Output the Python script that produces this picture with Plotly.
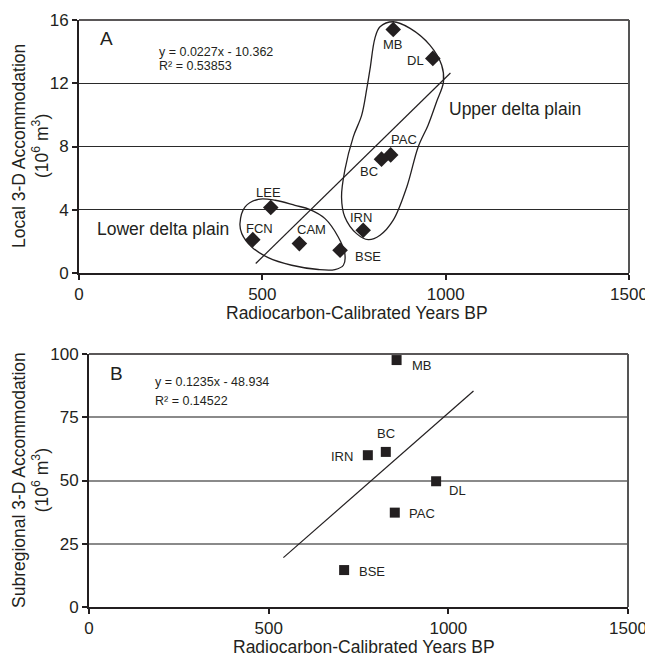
import plotly.graph_objects as go

# Panel A: local accommodation (diamonds)
sites_a = ["MB", "DL", "PAC", "BC", "IRN", "BSE", "LEE", "FCN", "CAM"]
years_a = [857, 965, 850, 825, 775, 712, 523, 474, 601]
accom_a = [15.4, 13.57, 7.47, 7.2, 2.7, 1.44, 4.14, 2.11, 1.86]

trend_a_x = [482, 1013]
trend_a_y = [0.6, 12.65]

# hand-drawn groupings
lower_loop_x = [439, 453, 489, 535, 589, 630, 671, 707, 725, 721, 698, 653, 580, 516, 471, 444, 439]
lower_loop_y = [3.13, 4.18, 4.66, 4.6, 4.28, 4.01, 3.44, 2.28, 1.23, 0.49, 0.22, 0.22, 0.49, 0.97, 1.65, 2.49, 3.13]
upper_loop_x = [857, 903, 957, 989, 994, 975, 952, 925, 894, 857, 821, 789, 757, 725, 716, 725, 748, 771, 785, 794, 807, 821, 857]
upper_loop_y = [15.89, 15.47, 14.41, 13.15, 12.09, 10.82, 9.35, 7.97, 5.44, 3.34, 2.39, 2.11, 2.49, 3.54, 4.81, 6.5, 8.61, 9.98, 11.67, 12.94, 14.84, 15.57, 15.89]

# Panel B: subregional accommodation (squares)
sites_b = ["MB", "BC", "IRN", "DL", "PAC", "BSE"]
years_b = [856, 826, 776, 966, 851, 710]
accom_b = [97.6, 61.3, 60.0, 49.7, 37.3, 14.6]

trend_b_x = [541, 1070]
trend_b_y = [19.5, 85.4]

x_ticks = [0, 500, 1000, 1500]
y_ticks_a = [0, 4, 8, 12, 16]
y_ticks_b = [0, 25, 50, 75, 100]

FONT = "Arial, Liberation Sans, sans-serif"
INK = "#231f20"
W, H = 645, 657

# label offsets (px) relative to each point
shift_a = [(0, -15), (-17, -2), (13, 15), (-13, -12), (-2, 13), (28, -6), (-2, 15), (7, 11), (12, 14)]
shift_b = [(25, -5), (0, 18), (-26, -1), (21, -9), (27, -1), (28, -1)]

fig = go.Figure()

for lx, ly in [(lower_loop_x, lower_loop_y), (upper_loop_x, upper_loop_y)]:
    fig.add_trace(go.Scatter(
        x=lx, y=ly, mode="lines", line=dict(color=INK, width=1.3, shape="spline", smoothing=1.0),
        xaxis="x", yaxis="y", hoverinfo="skip",
    ))

fig.add_trace(go.Scatter(x=trend_a_x, y=trend_a_y, mode="lines",
                         line=dict(color=INK, width=1.2), xaxis="x", yaxis="y"))
fig.add_trace(go.Scatter(
    x=years_a, y=accom_a, mode="markers", text=sites_a,
    marker=dict(symbol="diamond", size=12, color=INK),
    xaxis="x", yaxis="y",
))

fig.add_trace(go.Scatter(x=trend_b_x, y=trend_b_y, mode="lines",
                         line=dict(color=INK, width=1.2), xaxis="x2", yaxis="y2"))
fig.add_trace(go.Scatter(
    x=years_b, y=accom_b, mode="markers", text=sites_b,
    marker=dict(symbol="square", size=10, color=INK),
    xaxis="x2", yaxis="y2",
))

annotations = []
for name, xv, yv, (dx, dy) in zip(sites_a, years_a, accom_a, shift_a):
    annotations.append(dict(x=xv, y=yv, xref="x", yref="y", text=name, showarrow=False,
                            xshift=dx, yshift=dy, font=dict(size=13, color=INK)))
for name, xv, yv, (dx, dy) in zip(sites_b, years_b, accom_b, shift_b):
    annotations.append(dict(x=xv, y=yv, xref="x2", yref="y2", text=name, showarrow=False,
                            xshift=dx, yshift=dy, font=dict(size=13, color=INK)))

# panel letters, equations and region labels
annotations += [
    dict(x=75, y=14.84, xref="x", yref="y", text="A", showarrow=False, font=dict(size=19, color=INK)),
    dict(x=212, y=13.95, xref="x", yref="y", text="y = 0.0227x - 10.362", xanchor="left",
         showarrow=False, font=dict(size=12.5, color=INK)),
    dict(x=212, y=13.1, xref="x", yref="y", text="R² = 0.53853", xanchor="left",
         showarrow=False, font=dict(size=12.5, color=INK)),
    dict(x=230, y=2.81, xref="x", yref="y", text="Lower delta plain", showarrow=False,
         font=dict(size=17.5, color=INK)),
    dict(x=1189, y=10.4, xref="x", yref="y", text="Upper delta plain", showarrow=False,
         font=dict(size=17.5, color=INK)),
    dict(x=77, y=92.4, xref="x2", yref="y2", text="B", showarrow=False, font=dict(size=19, color=INK)),
    dict(x=179, y=88.8, xref="x2", yref="y2", text="y = 0.1235x - 48.934", xanchor="left",
         showarrow=False, font=dict(size=12.5, color=INK)),
    dict(x=179, y=81.4, xref="x2", yref="y2", text="R² = 0.14522", xanchor="left",
         showarrow=False, font=dict(size=12.5, color=INK)),
]

# axis titles
title_font = dict(size=17.5, color=INK)
annotations += [
    dict(x=30 / W, y=1 - 146 / H, xref="paper", yref="paper", textangle=-90, showarrow=False,
         xanchor="center", yanchor="middle",
         text="Local 3-D Accommodation<br>(10<sup>6</sup> m<sup>3</sup>)", font=title_font),
    dict(x=30 / W, y=1 - 480 / H, xref="paper", yref="paper", textangle=-90, showarrow=False,
         xanchor="center", yanchor="middle",
         text="Subregional 3-D Accommodation<br>(10<sup>6</sup> m<sup>3</sup>)", font=title_font),
    dict(x=357 / W, y=1 - 313 / H, xref="paper", yref="paper", showarrow=False,
         xanchor="center", yanchor="middle",
         text="Radiocarbon-Calibrated Years BP", font=title_font),
    dict(x=364 / W, y=1 - 647 / H, xref="paper", yref="paper", showarrow=False,
         xanchor="center", yanchor="middle",
         text="Radiocarbon-Calibrated Years BP", font=title_font),
]

axis_common = dict(
    showline=True, linecolor=INK, linewidth=2, mirror=False, automargin=False,
    ticks="outside", ticklen=5, tickcolor=INK, tickwidth=1.5, ticklabeloverflow="allow",
    tickfont=dict(size=17, color=INK), zeroline=False, fixedrange=True,
)

fig.update_layout(
    width=W, height=H,
    margin=dict(l=0, r=0, t=0, b=0, autoexpand=False),
    paper_bgcolor="white", plot_bgcolor="white",
    showlegend=False,
    font=dict(family=FONT, color=INK),
    annotations=annotations,
    xaxis=dict(domain=[79 / W, 629 / W], range=[0, 1500], tickvals=x_ticks,
               showgrid=False, anchor="y", **axis_common),
    yaxis=dict(domain=[1 - 273 / H, 1 - 20 / H], range=[0, 16], tickvals=y_ticks_a,
               showgrid=True, gridcolor="#2a2a2a", gridwidth=1, anchor="x", **axis_common),
    xaxis2=dict(domain=[89 / W, 628 / W], range=[0, 1500], tickvals=x_ticks,
                showgrid=False, anchor="y2", **axis_common),
    yaxis2=dict(domain=[1 - 607 / H, 1 - 354 / H], range=[0, 100], tickvals=y_ticks_b,
                showgrid=True, gridcolor="#8a8a8a", gridwidth=1.5, anchor="x2", **axis_common),
    shapes=[
        # top and right frame lines
        dict(type="line", xref="x domain", yref="y domain", x0=0, x1=1, y0=1, y1=1,
             line=dict(color=INK, width=1.5)),
        dict(type="line", xref="x domain", yref="y domain", x0=1, x1=1, y0=0, y1=1,
             line=dict(color="#555555", width=2)),
        dict(type="line", xref="x2 domain", yref="y2 domain", x0=0, x1=1, y0=1, y1=1,
             line=dict(color=INK, width=1.5)),
        dict(type="line", xref="x2 domain", yref="y2 domain", x0=1, x1=1, y0=0, y1=1,
             line=dict(color="#555555", width=2)),
    ],
)

# the page's default body margin would shift the figure
fig.write_html("out.html", config={"displayModeBar": False},
               post_script="document.body.style.margin = '0';")
